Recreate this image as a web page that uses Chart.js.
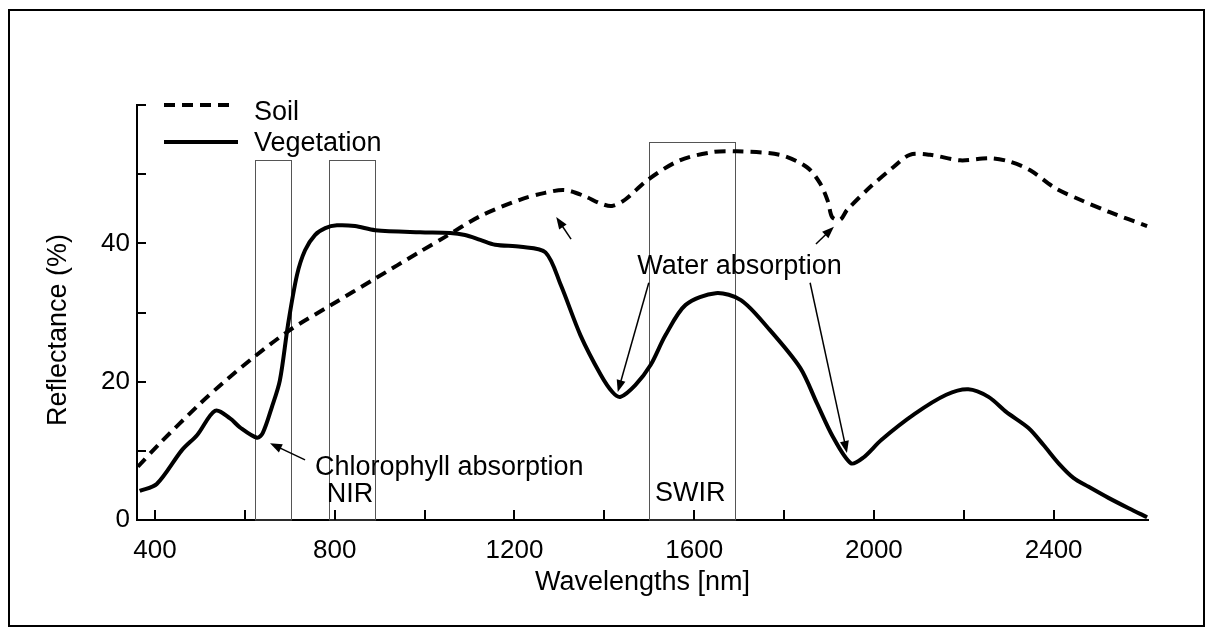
<!DOCTYPE html>
<html>
<head>
<meta charset="utf-8">
<script src="https://cdn.jsdelivr.net/npm/chart.js@4.4.0/dist/chart.umd.min.js"></script>
<style>
  html, body { margin: 0; padding: 0; background: #fff; }
  #wrap { position: relative; width: 1214px; height: 636px; }
  #frame { position: absolute; left: 8px; top: 9px; width: 1193px; height: 614px;
           border: 2px solid #000; pointer-events: none; }
</style>
</head>
<body>
<div id="wrap">
  <canvas id="chart" width="1214" height="636"></canvas>
  <div id="frame"></div>
</div>
<script>
"use strict";

// wavelengths (nm) and reflectance (%)
const soilX = [362, 411, 500, 551, 623, 701, 790, 890, 990, 1045, 1123, 1212, 1268, 1312,
               1357, 1390, 1417, 1446, 1497, 1568, 1642, 1695, 1791, 1851, 1880, 1898,
               1907, 1925, 1940, 1991, 2043, 2080, 2125, 2192, 2258, 2303, 2347, 2403,
               2459, 2525, 2608];
const soilY = [7.7, 11.1, 16.8, 19.8, 23.7, 27.5, 31.0, 34.9, 38.8, 40.9, 43.9, 46.3, 47.3, 47.7,
               46.8, 45.8, 45.4, 46.3, 49.2, 52.0, 53.2, 53.3, 52.8, 51.0, 48.7, 46.0,
               43.8, 43.4, 44.8, 48.1, 51.0, 52.8, 52.8, 52.0, 52.3, 51.8, 50.6, 48.0,
               46.3, 44.5, 42.5];

const vegX = [366, 404, 460, 494, 534, 567, 589, 627, 640, 660, 678, 696, 716, 734, 756, 779,
              805, 845, 890, 990, 1057, 1090, 1124, 1157, 1214, 1269, 1303, 1347, 1392,
              1418, 1436, 1469, 1503, 1536, 1581, 1648, 1704, 1764, 1836, 1873, 1909,
              1949, 1976, 2017, 2090, 2161, 2210, 2255, 2295, 2344, 2378, 2411,
              2444, 2478, 2522, 2567, 2608];
const vegY = [4.2, 5.2, 10.1, 12.3, 15.8, 14.7, 13.4, 11.9, 12.6, 16.3, 20.2, 28.2, 35.4, 39.0,
              41.2, 42.2, 42.6, 42.5, 41.9, 41.6, 41.5, 41.2, 40.5, 39.8, 39.5, 38.7, 34.0,
              26.7, 21.0, 18.5, 17.8, 19.5, 22.4, 26.7, 31.1, 32.8, 31.8, 27.8, 22.0, 16.9,
              12.0, 8.2, 9.0, 11.6, 15.3, 18.1, 18.9, 17.8, 15.6, 13.3, 10.8, 8.2,
              6.1, 4.8, 3.2, 1.7, 0.4];

const xTicks = [400, 600, 800, 1000, 1200, 1400, 1600, 1800, 2000, 2200, 2400];
const xLabels = [400, 800, 1200, 1600, 2000, 2400];
const yTicks = [0, 10, 20, 30, 40, 50, 60];
const yLabels = [0, 20, 40];

// band boxes (nm, top in %)
const bandFrom = [623, 787, 1500];
const bandTo = [703, 890, 1690];
const bandTop = [52, 52, 54.6];

// notes and arrows (nm, %)
const noteText = ['Chlorophyll absorption', 'NIR', 'SWIR', 'Water absorption'];
const noteX = [756, 834, 1591, 1701];
const noteY = [6.5, 2.6, 2.75, 35.6];
const noteAlign = ['left', 'center', 'center', 'center'];

const arrowFromX = [734, 1326, 1871, 1499, 1858];
const arrowFromY = [8.7, 40.6, 39.9, 34.3, 34.3];
const arrowToX = [656, 1293, 1911, 1430, 1940];
const arrowToY = [11.1, 43.8, 42.4, 18.5, 9.7];

const FONT = '"Liberation Sans", Arial, sans-serif';

function toPoints(xs, ys) {
  return xs.map((x, i) => ({x: x, y: ys[i]}));
}

function drawArrow(ctx, x1, y1, x2, y2) {
  const a = Math.atan2(y2 - y1, x2 - x1);
  const len = 12, half = 4.5;
  ctx.beginPath();
  ctx.moveTo(x1, y1);
  ctx.lineTo(x2 - Math.cos(a) * len * 0.7, y2 - Math.sin(a) * len * 0.7);
  ctx.stroke();
  ctx.beginPath();
  ctx.moveTo(x2, y2);
  ctx.lineTo(x2 - len * Math.cos(a) + half * Math.sin(a), y2 - len * Math.sin(a) - half * Math.cos(a));
  ctx.lineTo(x2 - len * Math.cos(a) - half * Math.sin(a), y2 - len * Math.sin(a) + half * Math.cos(a));
  ctx.closePath();
  ctx.fill();
}

const overlay = {
  id: 'overlay',
  beforeDatasetsDraw(chart) {
    const ctx = chart.ctx, xs = chart.scales.x, ys = chart.scales.y, area = chart.chartArea;
    ctx.save();
    ctx.strokeStyle = '#555';
    ctx.lineWidth = 1;
    for (let i = 0; i < bandFrom.length; i++) {
      const l = Math.round(xs.getPixelForValue(bandFrom[i])) + 0.5;
      const r = Math.round(xs.getPixelForValue(bandTo[i])) + 0.5;
      const t = Math.round(ys.getPixelForValue(bandTop[i])) + 0.5;
      ctx.strokeRect(l, t, r - l, area.bottom - t);
    }
    // ticks point inwards
    ctx.strokeStyle = '#000';
    ctx.lineWidth = 2;
    ctx.beginPath();
    for (const v of xTicks) {
      const px = Math.round(xs.getPixelForValue(v));
      ctx.moveTo(px, area.bottom);
      ctx.lineTo(px, area.bottom - 10);
    }
    for (const v of yTicks) {
      if (v === 0) continue;
      const py = Math.round(ys.getPixelForValue(v));
      ctx.moveTo(area.left, py);
      ctx.lineTo(area.left + 9, py);
    }
    ctx.stroke();
    ctx.restore();
  },
  afterDatasetsDraw(chart) {
    const ctx = chart.ctx, xs = chart.scales.x, ys = chart.scales.y, area = chart.chartArea;
    ctx.save();
    ctx.fillStyle = '#000';
    ctx.strokeStyle = '#000';
    ctx.lineWidth = 1.5;
    for (let i = 0; i < arrowFromX.length; i++) {
      drawArrow(ctx, xs.getPixelForValue(arrowFromX[i]), ys.getPixelForValue(arrowFromY[i]),
                xs.getPixelForValue(arrowToX[i]), ys.getPixelForValue(arrowToY[i]));
    }
    ctx.font = '27px ' + FONT;
    ctx.textBaseline = 'alphabetic';
    for (let i = 0; i < noteText.length; i++) {
      ctx.textAlign = noteAlign[i];
      ctx.fillText(noteText[i], xs.getPixelForValue(noteX[i]), ys.getPixelForValue(noteY[i]));
    }

    // legend, top left inside the plot
    const sets = chart.data.datasets;
    const lx = area.left + 27;
    const rows = [area.top, area.top + 37];
    const ends = [lx + 69, lx + 74];
    const base = [area.top + 15, area.top + 46];
    ctx.lineWidth = 4;
    for (let i = 0; i < sets.length; i++) {
      ctx.setLineDash(sets[i].borderDash || []);
      ctx.beginPath();
      ctx.moveTo(lx, rows[i]);
      ctx.lineTo(ends[i], rows[i]);
      ctx.stroke();
      ctx.setLineDash([]);
      ctx.textAlign = 'left';
      ctx.fillText(sets[i].label, area.left + 117, base[i]);
    }

    // y axis title
    ctx.translate(66, 330);
    ctx.rotate(-Math.PI / 2);
    ctx.textAlign = 'center';
    ctx.fillText('Reflectance (%)', 0, 0);
    ctx.restore();
  }
};

const tickFont = {family: FONT, size: 26};

new Chart(document.getElementById('chart'), {
  type: 'line',
  data: {
    datasets: [
      {
        label: 'Soil',
        data: toPoints(soilX, soilY),
        borderColor: '#000',
        borderWidth: 4,
        borderDash: [11, 7],
        pointRadius: 0,
        fill: false,
        tension: 0.3
      },
      {
        label: 'Vegetation',
        data: toPoints(vegX, vegY),
        borderColor: '#000',
        borderWidth: 4,
        pointRadius: 0,
        fill: false,
        tension: 0.3
      }
    ]
  },
  options: {
    responsive: false,
    animation: false,
    layout: {padding: {left: 0, top: 105, right: 66, bottom: 0}},
    plugins: {legend: {display: false}, tooltip: {enabled: false}},
    scales: {
      x: {
        type: 'linear',
        min: 360,
        max: 2610,
        afterBuildTicks: s => { s.ticks = xTicks.map(v => ({value: v})); },
        afterFit: s => { s.height = 116; },
        grid: {display: false, drawTicks: false},
        border: {display: true, color: '#000', width: 2},
        ticks: {
          padding: 15, color: '#000', font: tickFont, autoSkip: false, maxRotation: 0,
          callback: v => xLabels.includes(v) ? String(v) : ''
        },
        title: {
          display: true, text: 'Wavelengths [nm]', color: '#000',
          font: {family: FONT, size: 27}, padding: {top: 0, bottom: 37}
        }
      },
      y: {
        type: 'linear',
        min: 0,
        max: 60,
        afterBuildTicks: s => { s.ticks = yTicks.map(v => ({value: v})); },
        afterFit: s => { s.width = 137; },
        grid: {display: false, drawTicks: false},
        border: {display: true, color: '#000', width: 2},
        ticks: {
          padding: 7, color: '#000', font: tickFont, autoSkip: false,
          callback: v => yLabels.includes(v) ? String(v) : ''
        }
      }
    }
  },
  plugins: [overlay]
});
</script>
</body>
</html>
